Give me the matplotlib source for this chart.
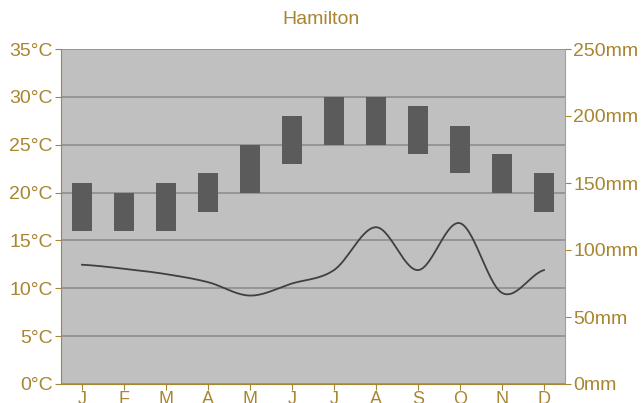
import matplotlib
matplotlib.use("Agg")
import matplotlib.pyplot as plt
import numpy as np

months = ["J", "F", "M", "A", "M", "J", "J", "A", "S", "O", "N", "D"]
temp_low = [16, 16, 16, 18, 20, 23, 25, 25, 24, 22, 20, 18]
temp_high = [21, 20, 21, 22, 25, 28, 30, 30, 29, 27, 24, 22]
precip = [89, 86, 82, 76, 66, 75, 85, 117, 85, 120, 68, 85]

gold = "#A8862F"
plt.rcParams['font.family'] = ['Liberation Sans', 'DejaVu Sans']

fig = plt.figure(figsize=(6.41, 4.03), dpi=100)
ax = fig.add_axes([61/641, 19/403, 504/641, 335/403])
ax.set_facecolor("#C0C0C0")

x = np.arange(len(months))
ax.bar(x, np.array(temp_high) - np.array(temp_low), bottom=temp_low, width=0.48,
       color="#5B5B5B", zorder=3)
ax.set_ylim(0, 35)
ax.set_xlim(-0.5, 11.5)
ax.set_yticks(range(0, 36, 5))
ax.set_yticklabels([f"{v}°C" for v in range(0, 36, 5)])
ax.set_xticks(x)
ax.set_xticklabels(months)
ax.grid(axis='y', color="#8E8E8E", linewidth=1.2, zorder=1)
ax.set_axisbelow(True)

ax2 = ax.twinx()
ax2.set_ylim(0, 250)
ax2.set_yticks(range(0, 251, 50))
ax2.set_yticklabels([f"{v}mm" for v in range(0, 251, 50)])

# Catmull-Rom smoothing of the precipitation line
p = np.array(precip, dtype=float)
xs, ys = [], []
n = len(p)
for i in range(n - 1):
    p0 = p[i - 1] if i > 0 else p[i]
    p1, p2 = p[i], p[i + 1]
    p3 = p[i + 2] if i + 2 < n else p[i + 1]
    t = np.linspace(0, 1, 30)
    yy = 0.5 * ((2 * p1) + (-p0 + p2) * t + (2 * p0 - 5 * p1 + 4 * p2 - p3) * t**2
                + (-p0 + 3 * p1 - 3 * p2 + p3) * t**3)
    xs.extend(i + t)
    ys.extend(yy)
ax2.plot(xs, ys, color="#404040", linewidth=1.3, zorder=4)

for a in (ax, ax2):
    for s in a.spines.values():
        s.set_visible(False)
ax.spines['left'].set_visible(True)
ax.spines['left'].set_color(gold)
ax.spines['bottom'].set_visible(True)
ax.spines['bottom'].set_color(gold)
ax2.spines['right'].set_visible(True)
ax2.spines['right'].set_color("#A0A0A0")

ax.tick_params(axis='y', colors=gold, labelsize=14, length=4, pad=2)
ax.tick_params(axis='x', colors=gold, labelsize=13, length=4, pad=1)
ax2.tick_params(axis='y', colors=gold, labelsize=14, length=4, pad=2)
for lbl in ax.get_xticklabels() + ax.get_yticklabels() + ax2.get_yticklabels():
    lbl.set_color(gold)

fig.text(0.5, 1 - 20/403, "Hamilton", ha='center', va='center', color=gold, fontsize=14)

fig.savefig("out.png", dpi=100)
